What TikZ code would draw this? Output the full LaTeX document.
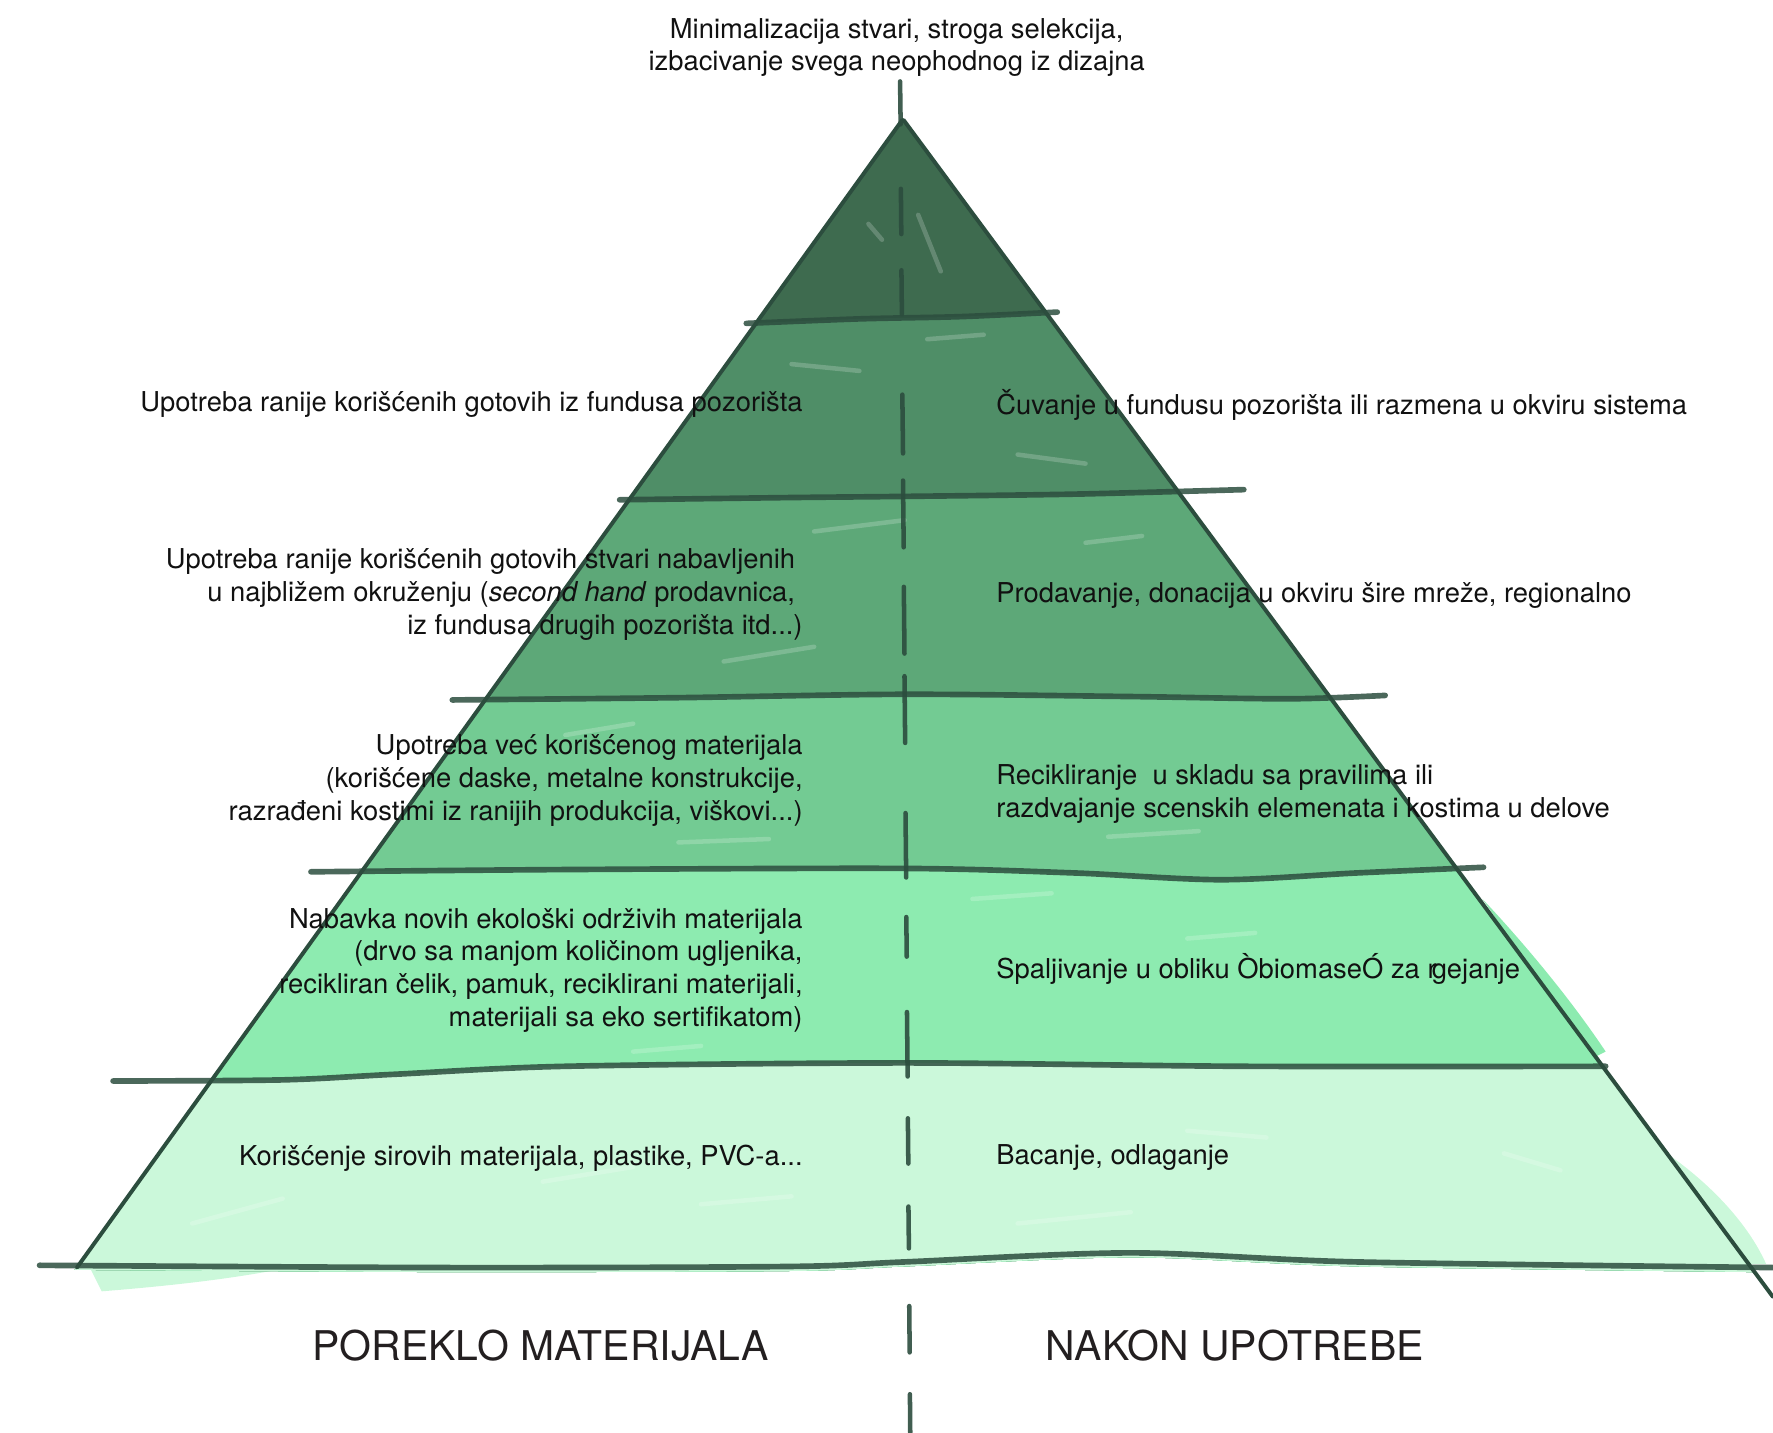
\documentclass[tikz,border=0pt]{standalone}
\usepackage{fontspec}
\setmainfont{TeX Gyre Heros}
\definecolor{cA}{HTML}{3E6B4F}
\definecolor{cB}{HTML}{4F8E67}
\definecolor{cC}{HTML}{5DA878}
\definecolor{cD}{HTML}{73CB93}
\definecolor{cE}{HTML}{8DEBB0}
\definecolor{cF}{HTML}{CBF8DA}
\definecolor{linec}{HTML}{2C4D3E}
\definecolor{txt}{HTML}{111111}
\definecolor{txtb}{HTML}{231F20}
\begin{document}
\begin{tikzpicture}[x=1pt,y=-1pt,
  hline/.style={draw=linec,line width=5pt,opacity=.85,line cap=round},
  edgeline/.style={draw=linec,line width=3.5pt,line cap=round},
  dashseg/.style={draw=linec,line width=4pt,line cap=round,opacity=.9},
  streak/.style={draw=white,line width=4pt,line cap=round,opacity=.2},
  lbl/.style={inner sep=0pt,text=txt,font=\fontsize{24.2}{29}\selectfont},
  leftlbl/.style={lbl,anchor=east,align=right},
  rightlbl/.style={lbl,anchor=west,align=left},
  biglbl/.style={inner sep=0pt,text=txtb,font=\fontsize{36.2}{42}\selectfont}]
\useasboundingbox (0,0) rectangle (1568,1267);

% ---------- overshoots of the colouring beyond the edges ----------
\fill[cE] (1311,795) .. controls (1330,815) and (1380,870) .. (1420,930) -- (1408,936) -- cycle;
\fill[cF] (1474,1020) .. controls (1510,1045) and (1545,1080) .. (1562,1118) -- (1545,1118) -- cycle;
\fill[cF] (80,1122) -- (250,1122) .. controls (200,1132) and (140,1138) .. (90,1142) -- cycle;

% ---------- fills ----------
\begin{scope}
\clip (798,106) -- (66,1123) -- plot[smooth] coordinates {(66,1123) (400,1125) (700,1124) (800,1120) (1000,1112) (1200,1120) (1552,1125)} -- cycle;
\fill[cA] (0,0) rectangle (1568,1267);
\fill[cB] (0,1300) -- (0,286) -- plot[smooth] coordinates {(660,286) (760,282) (850,280) (935,276)} -- (1568,276) -- (1568,1300) -- cycle;
\fill[cC] (0,1300) -- (0,442) -- plot[smooth] coordinates {(548,442) (700,440) (800,439) (950,437) (1100,433)} -- (1568,433) -- (1568,1300) -- cycle;
\fill[cD] (0,1300) -- (0,619) -- plot[smooth] coordinates {(400,619) (600,617) (800,614) (1000,616) (1140,618) (1225,615)} -- (1568,615) -- (1568,1300) -- cycle;
\fill[cE] (0,1300) -- (0,771) -- plot[smooth] coordinates {(275,771) (500,769) (800,768) (950,772) (1080,778) (1200,772) (1312,767)} -- (1568,767) -- (1568,1300) -- cycle;
\fill[cF] (0,1300) -- (0,956) -- plot[smooth] coordinates {(100,956) (250,955) (350,950) (500,943) (800,940) (1100,943) (1420,943)} -- (1568,943) -- (1568,1300) -- cycle;
% streaks
\draw[streak] (812,190) -- (832,240);
\draw[streak] (768,198) -- (780,212);
\draw[streak] (700,322) -- (760,328);
\draw[streak] (900,402) -- (960,410);
\draw[streak] (820,300) -- (870,296);
\draw[streak] (720,470) -- (800,460);
\draw[streak] (640,585) -- (720,572);
\draw[streak] (960,480) -- (1010,474);
\draw[streak] (500,650) -- (560,640);
\draw[streak] (980,740) -- (1060,735);
\draw[streak] (600,745) -- (680,742);
\draw[streak] (1050,830) -- (1110,825);
\draw[streak] (860,795) -- (930,790);
\draw[streak] (560,930) -- (620,925);
\draw[streak] (170,1082) -- (250,1060);
\draw[streak] (480,1045) -- (560,1032);
\draw[streak] (900,1082) -- (1000,1072);
\draw[streak] (1050,1000) -- (1120,1006);
\draw[streak] (620,1065) -- (700,1058);
\draw[streak] (1330,1020) -- (1380,1035);
\end{scope}

% ---------- lines ----------
\draw[edgeline] (798,106) -- (68,1121);
\draw[edgeline] (799,106) -- (1568,1147);
\draw[hline] plot[smooth] coordinates {(660,286) (760,282) (850,280) (935,276)};
\draw[hline] plot[smooth] coordinates {(548,442) (700,440) (800,439) (950,437) (1100,433)};
\draw[hline] plot[smooth] coordinates {(400,619) (600,617) (800,614) (1000,616) (1140,618) (1225,615)};
\draw[hline] plot[smooth] coordinates {(275,771) (500,769) (800,768) (950,772) (1080,778) (1200,772) (1312,767)};
\draw[hline] plot[smooth] coordinates {(100,956) (250,955) (350,950) (500,943) (800,940) (1100,943) (1420,943)};
\draw[hline] plot[smooth] coordinates {(35,1119) (400,1121) (700,1120) (800,1116) (1000,1108) (1200,1116) (1568,1121)};

% ---------- centre dashed axis ----------
\draw[dashseg] (796,72) -- (796.5,110)
  (796.7,167) -- (797.1,207)
  (797.2,239) -- (797.6,278)
  (798.0,349) -- (798.6,401)
  (798.6,425) -- (799.2,484)
  (799.3,519) -- (799.9,578)
  (799.9,598) -- (800.5,657)
  (800.8,719) -- (801.4,776)
  (801.5,811) -- (801.9,846)
  (802.1,895) -- (802.7,952)
  (802.9,989) -- (803.3,1029)
  (803.4,1067) -- (803.8,1104)
  (804.1,1155) -- (804.5,1196)
  (804.7,1233) -- (805,1267);

% ---------- texts ----------
\node[lbl,align=center] (top) at (793,42) {Minimalizacija stvari, stroga selekcija,\\izbacivanje svega neophodnog iz dizajna};

\node[leftlbl] (l2) at (710,358) {Upotreba ranije korišćenih gotovih iz fundusa pozorišta};
\node[rightlbl] (r2) at (881,358) {Čuvanje u fundusu pozorišta ili razmena u okviru sistema};

\node[leftlbl] (l3) at (710,526) {Upotreba ranije korišćenih gotovih stvari nabavljenih\makebox[6.7pt]{}\\u najbližem okruženju (\textit{second hand} prodavnica,\makebox[6.7pt]{}\\iz fundusa drugih pozorišta itd...)};
\node[rightlbl] (r3) at (881,527) {Prodavanje, donacija u okviru šire mreže, regionalno};

\node[leftlbl] (l4) at (710,690) {Upotreba već korišćenog materijala\\(korišćene daske, metalne konstrukcije,\\razrađeni kostimi iz ranijih produkcija, viškovi...)};
\node[rightlbl] (r4) at (881,702) {Recikliranje\ \ u skladu sa pravilima ili\\razdvajanje scenskih elemenata i kostima u delove};

\node[leftlbl] (l5) at (710,858) {Nabavka novih ekološki održivih materijala\\(drvo sa manjom količinom ugljenika,\\recikliran čelik, pamuk, reciklirani materijali,\\materijali sa eko sertifikatom)};
\node[rightlbl] (r5) at (881,857) {Spaljivanje u obliku ÒbiomaseÓ za r\kern-4.3pt gejanje};

\node[leftlbl] (l6) at (710,1024) {Korišćenje sirovih materijala, plastike, PVC-a...};
\node[rightlbl] (r6) at (881,1024) {Bacanje, odlaganje};

\node[biglbl] (poreklo) at (478,1190) {POREKLO MATERIJALA};
\node[biglbl] (nakon) at (1092,1190) {NAKON UPOTREBE};
\end{tikzpicture}
\end{document}
